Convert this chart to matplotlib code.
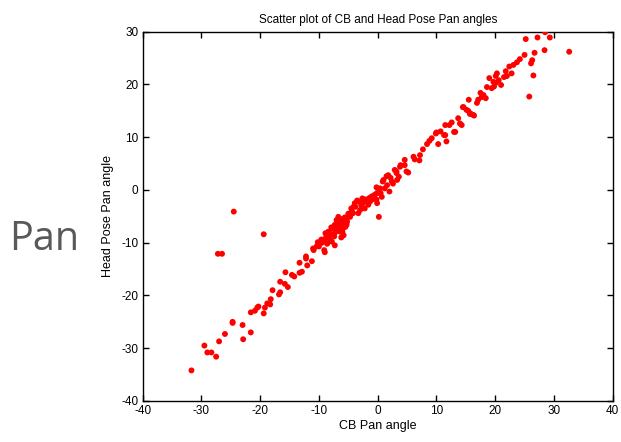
import matplotlib.pyplot as plt

plt.rcParams['font.family'] = ['Liberation Sans', 'DejaVu Sans']
plt.rcParams['axes.unicode_minus'] = False

# CB pan angle (x) and head pose pan angle (y)
cb_pan = [
    -31.7, -29.5, -29.0, -28.3, -27.5, -27.0, -26.0, -24.7, -24.7, -23.0,
    -22.9, -21.6, -21.6, -20.9, -20.5, -20.3, -19.4, -19.2, -18.8, -18.3,
    -18.2, -17.9, -16.8, -16.6, -16.6, -15.8, -15.3, -15.7, -14.6, -14.2,
    -13.3, -12.9, -13.3, -12.2, -12.2, -12.0, -11.2, -10.9, -10.0, -9.5,
    -9.1, -9.0, -24.5, -19.4, -27.2, -26.5, 0.2,
    -11.0, -10.4, -9.8, -9.3, -8.7, -8.1, -8.4, -7.8, -7.6, -7.3,
    -7.0, -7.0, -6.7, -6.4, -6.1, -5.9, -5.4, -5.3, -4.7, -4.2,
    -3.3, -3.0, -2.2, -1.6, -3.9, -2.5, -2.0, -1.3, -0.9, -0.1,
    -0.2, -0.1, 0.7, 0.5, -0.1, 0.4, 1.2, 1.6, 0.85, 1.8,
    -3.5, -4.5, -5.0, -6.0, -6.5, -7.5, -8.0, -6.0, -5.5, -6.8,
    -7.2, -8.5, -9.0, -7.8, -6.2, -5.8, -7.3, -8.6, -6.6, -5.6,
    -4.9, -4.4, -3.8, -2.8, -1.8, -1.0, -0.5, -8.2, -7.9, -6.9,
    -5.2, -4.0, -3.2, -2.6, -1.4, -9.6, -10.2, -8.9, -7.4, -6.3,
    -0.2, 1.0, 2.4, 3.2, 3.3, 2.9, 3.9, 4.6, 4.9, 5.2,
    6.1, 6.3, 7.1, 7.2, 7.7, 8.4, 9.2, 8.8, 10.3, 10.0,
    10.7, 11.5, 11.7, 11.5, 12.2, 12.6, 13.2, 13.7, 14.0, 14.3,
    14.6, 15.4, 15.7, 16.3, 15.5, 14.5, 15.1, 15.8, 16.4, 2.0,
    4.6, 3.8, 3.2, 2.2, 1.5, 2.6, 3.6, 9.9, 11.3, 13.0,
    17.5, 18.0, 18.4, 17.1, 16.9, 17.7, 19.0, 19.7, 20.1, 21.0,
    19.4, 19.8, 20.3, 20.1, 22.8, 22.0, 21.5, 23.7, 23.1, 22.4,
    25.0, 26.3, 26.1, 26.7, 25.2, 27.2, 28.4, 28.5, 29.3, 32.6,
    26.5, 25.8, 18.6, 20.6, 21.8, 24.2,
]
head_pan = [
    -34.2, -29.5, -30.8, -30.8, -31.6, -28.7, -27.3, -25.0, -25.2, -25.6,
    -28.3, -27.0, -23.2, -22.9, -22.3, -22.1, -23.4, -22.3, -21.5, -21.7,
    -20.7, -19.0, -19.8, -19.4, -17.4, -17.8, -18.4, -15.6, -16.1, -16.4,
    -15.7, -15.5, -13.8, -12.6, -13.0, -14.3, -13.5, -11.4, -10.7, -10.0,
    -11.4, -11.8, -4.1, -8.4, -12.1, -12.1, -5.1,
    -11.1, -10.7, -10.1, -9.8, -8.8, -9.5, -7.9, -7.3, -8.5, -6.6,
    -5.7, -7.6, -5.1, -7.9, -6.3, -7.3, -5.7, -6.6, -5.1, -4.4,
    -4.4, -3.8, -3.5, -2.8, -2.5, -2.5, -1.8, -2.2, -1.8, -2.5,
    -1.8, -0.6, -1.3, -0.6, -0.6, 0.3, 0.3, 0.9, 1.6, 2.8,
    -2.0, -3.5, -4.5, -5.5, -6.0, -7.0, -8.5, -8.0, -7.0, -7.5,
    -8.0, -9.0, -9.3, -9.8, -9.0, -8.6, -10.5, -10.2, -6.5, -5.2,
    -4.8, -4.0, -3.2, -2.9, -2.0, -1.2, -0.9, -8.0, -7.1, -6.2,
    -6.0, -3.0, -2.2, -1.6, -1.5, -9.4, -9.9, -8.2, -8.8, -7.0,
    0.5, 1.9, 1.6, 3.2, 1.9, 3.8, 4.7, 5.7, 3.5, 3.3,
    6.3, 5.8, 5.6, 6.6, 7.7, 8.7, 9.8, 9.3, 8.7, 10.9,
    11.1, 10.4, 9.2, 12.3, 12.3, 12.8, 11.0, 13.6, 12.6, 12.3,
    15.7, 15.0, 14.4, 14.2, 17.1, 15.7, 15.2, 14.5, 14.1, -0.3,
    4.7, 4.4, 3.5, 2.3, 2.6, 1.2, 2.5, 10.7, 10.4, 11.0,
    18.4, 18.0, 17.4, 17.1, 16.5, 17.6, 21.2, 20.5, 20.3, 19.9,
    19.3, 19.6, 22.1, 21.6, 22.1, 21.6, 21.4, 24.2, 23.7, 23.4,
    25.6, 24.6, 24.0, 26.0, 28.6, 28.9, 26.5, 29.9, 28.9, 26.2,
    21.7, 17.7, 19.5, 20.8, 22.5, 24.8,
]

fig = plt.figure(figsize=(6.21, 4.42), dpi=100)
ax = fig.add_axes([0.2298, 0.0928, 0.7568, 0.8355])

ax.scatter(cb_pan, head_pan, s=18, color='#ff0000', edgecolors='none', zorder=3)

ax.set_xlim(-40, 40)
ax.set_ylim(-40, 30)
ax.set_xticks(range(-40, 41, 10))
ax.set_yticks(range(-40, 31, 10))
ax.tick_params(direction='in', length=4, width=1, top=True, right=True,
               labelsize=8.5, pad=3)
for sp in ax.spines.values():
    sp.set_linewidth(1)

ax.set_title('Scatter plot of CB and Head Pose Pan angles', fontsize=8.5, pad=6)
ax.set_xlabel('CB Pan angle', fontsize=9, labelpad=2)
ax.set_ylabel('Head Pose Pan angle', fontsize=9, labelpad=5)

fig.text(0.071, 0.457, 'Pan', fontsize=28.5, color='#595959',
         family=['Open Sans', 'DejaVu Sans'], ha='center', va='center')

fig.savefig('out.png', dpi=100)
